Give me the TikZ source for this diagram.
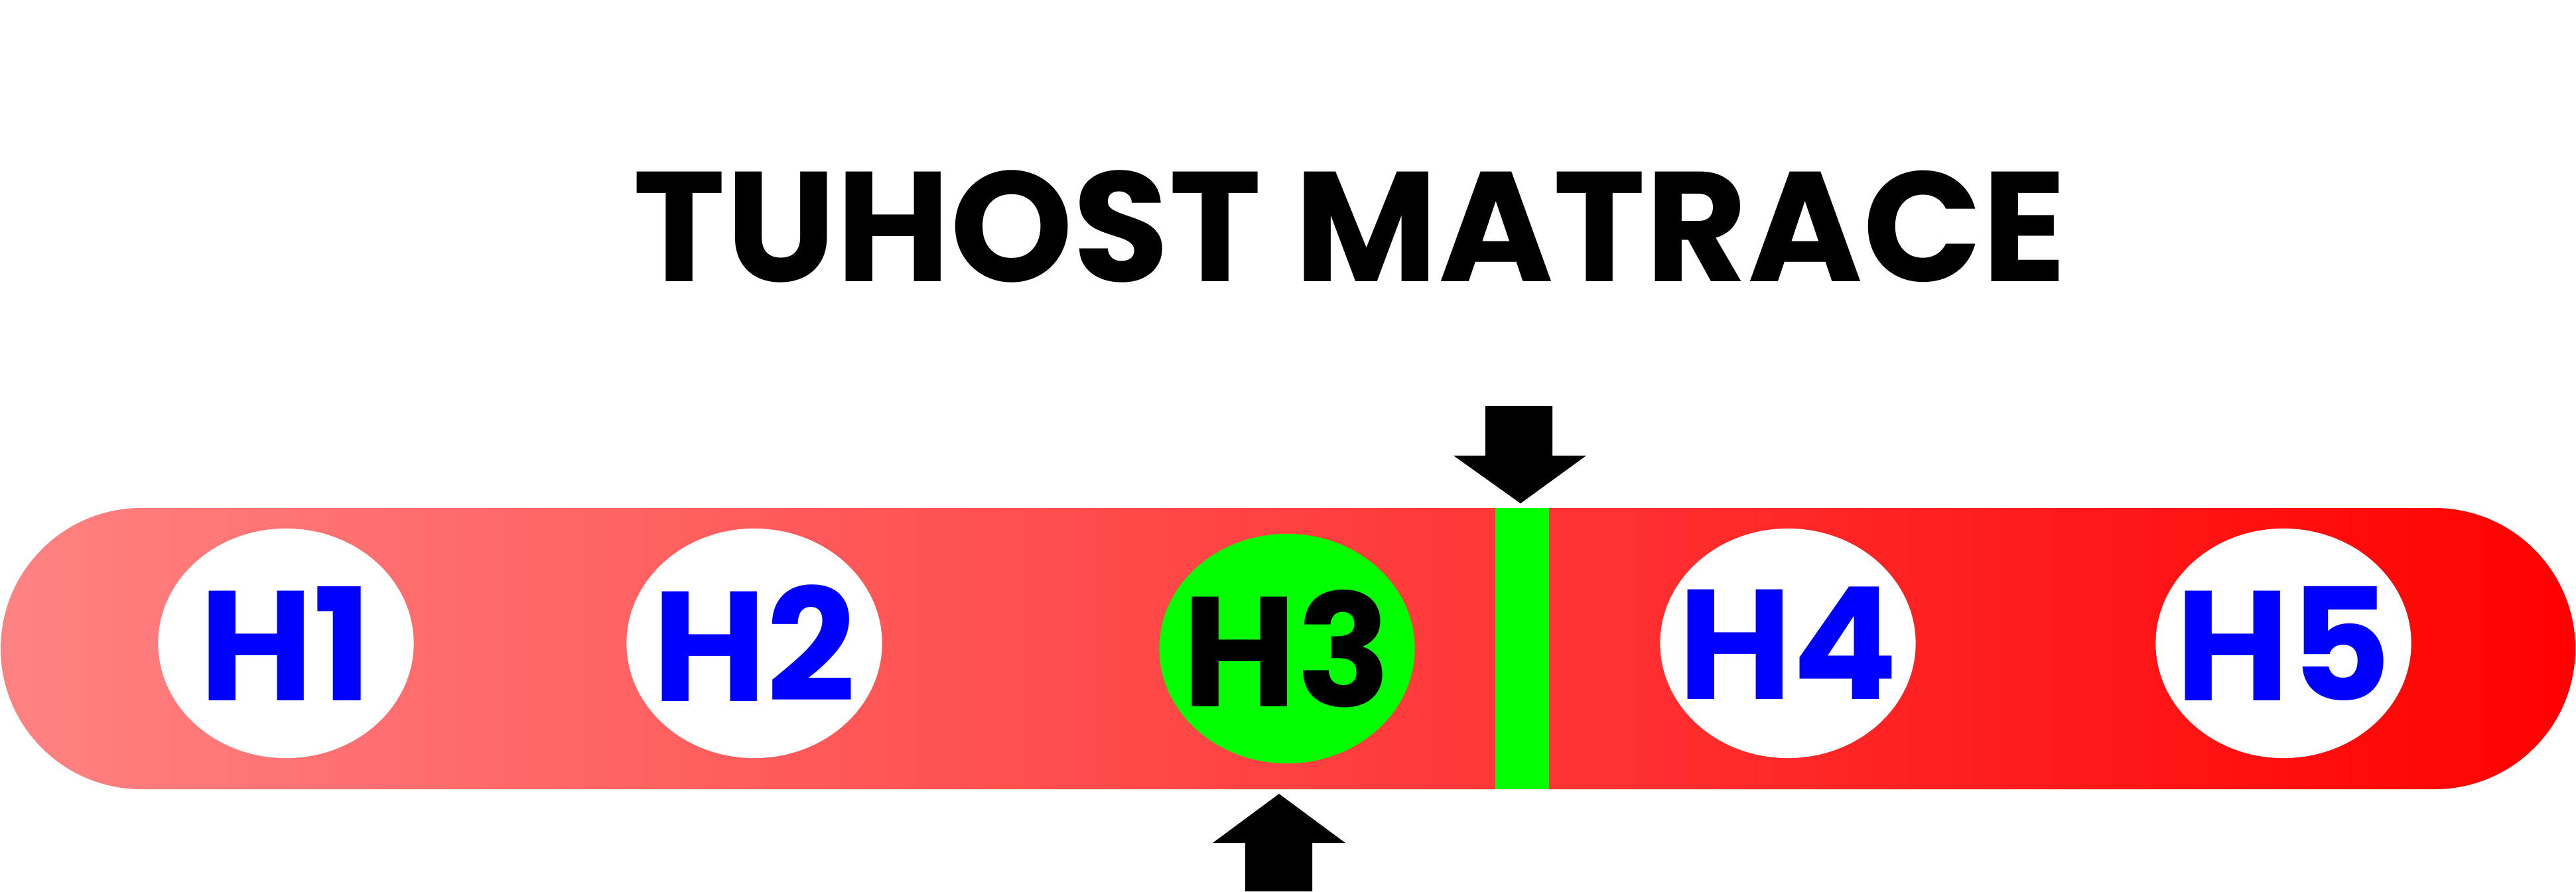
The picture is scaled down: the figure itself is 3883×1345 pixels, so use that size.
\documentclass[tikz,border=0pt]{standalone}
\usepackage{fontspec}
\usepackage{tikz}
\usetikzlibrary{shapes.geometric}
\newfontfamily\labelfont{Poppins}
\begin{document}
\begin{tikzpicture}[x=0.01cm, y=-0.01cm,
    bigfont/.style={font=\labelfont\bfseries\fontsize{67}{67}\selectfont},
    hardness/.style={ellipse, minimum width=3.85cm, minimum height=3.46cm, inner xsep=-1cm, inner ysep=0pt, fill=white, text=blue, bigfont},
    chosen/.style={hardness, fill=green, text=black},
    pointer/.style={fill=black}]
      \useasboundingbox (0,0) rectangle (3883,1345);
      % title
      \node[bigfont] (title) at (2035, 341) {TUHOST MATRACE};
      % scale bar
      \shade[left color=red!49, right color=red, rounded corners=2.12cm] (1,766) rectangle (3882,1190);
      \fill[green] (2254,766) rectangle (2335,1190);
      \node[hardness] (h1) at (431, 970) {H1};
      \node[hardness] (h2) at (1137, 970) {H2};
      \node[chosen] (h3) at (1940, 978) {H3};
      \node[hardness] (h4) at (2695, 970) {H4};
      \node[hardness] (h5) at (3442, 970) {H5};
      % arrows
      \fill[pointer] (2239,612) -- (2340,612) -- (2340,687) -- (2391,687) -- (2292,759) -- (2191,687) -- (2239,687) -- cycle;
      \fill[pointer] (1928,1197) -- (2028,1271) -- (1978,1271) -- (1978,1344) -- (1877,1344) -- (1877,1271) -- (1828,1271) -- cycle;
\end{tikzpicture}
\end{document}
